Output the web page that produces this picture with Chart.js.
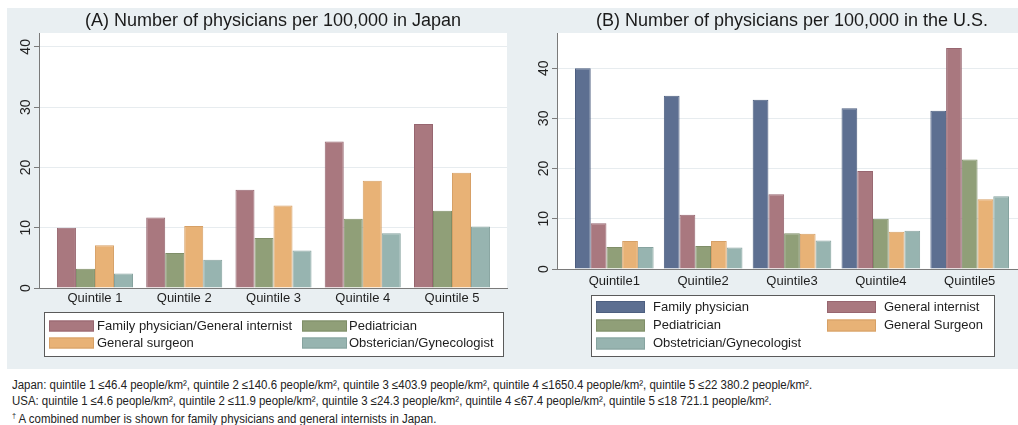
<!DOCTYPE html>
<html>
<head>
<meta charset="utf-8">
<script src="https://cdn.jsdelivr.net/npm/chart.js@4.4.1/dist/chart.umd.min.js"></script>
<style>
  html, body { margin: 0; padding: 0; background: #ffffff; }
  body { width: 1018px; height: 425px; overflow: hidden; position: relative;
         font-family: "Liberation Sans", Arial, sans-serif; }
  #panel { position: absolute; left: 7px; top: 8px; width: 1011px; height: 361px; background: #e9eff2; }
  #wrapA { position: absolute; left: 0; top: 0; width: 515px; height: 370px; }
  #wrapB { position: absolute; left: 505px; top: 0; width: 522px; height: 370px; }
  .note { position: absolute; left: 12px; font-family: "Liberation Sans", Arial, sans-serif;
          font-size: 12.5px; line-height: 14px; color: #222; white-space: nowrap;
          transform: scaleX(0.915); transform-origin: 0 50%; }
</style>
</head>
<body>
<div id="panel"></div>
<div id="wrapA"><canvas id="japan" width="515" height="370"></canvas></div>
<div id="wrapB"><canvas id="usa" width="522" height="370"></canvas></div>
<div class="note" style="top:378px">Japan: quintile 1 ≤46.4 people/km², quintile 2 ≤140.6 people/km², quintile 3 ≤403.9 people/km², quintile 4 ≤1650.4 people/km², quintile 5 ≤22 380.2 people/km².</div>
<div class="note" style="top:394px">USA: quintile 1 ≤4.6 people/km², quintile 2 ≤11.9 people/km², quintile 3 ≤24.3 people/km², quintile 4 ≤67.4 people/km², quintile 5 ≤18 721.1 people/km².</div>
<div class="note" style="top:409px"><sup style="font-size:8px">†</sup> A combined number is shown for family physicians and general internists in Japan.</div>

<script>
// ---- data: physicians per 100,000 by population-density quintile ----
const categoriesJapan = ['Quintile 1', 'Quintile 2', 'Quintile 3', 'Quintile 4', 'Quintile 5'];
const categoriesUS = ['Quintile1', 'Quintile2', 'Quintile3', 'Quintile4', 'Quintile5'];

const jpFamilyInternist = [10.0, 11.7, 16.3, 24.3, 27.2];
const jpPediatrician    = [3.2, 5.8, 8.3, 11.5, 12.8];
const jpSurgeon         = [7.1, 10.3, 13.7, 17.8, 19.1];
const jpObGyn           = [2.4, 4.7, 6.2, 9.1, 10.2];

const usFamily       = [40.0, 34.5, 33.7, 32.0, 31.5];
const usInternist    = [9.1, 10.8, 14.9, 19.5, 44.0];
const usPediatrician = [4.4, 4.6, 7.1, 10.0, 21.8];
const usSurgeon      = [5.6, 5.6, 7.0, 7.4, 13.9];
const usObGyn        = [4.4, 4.3, 5.7, 7.6, 14.5];

const yTickValues = [0, 10, 20, 30, 40];

// ---- colours ----
const COL = {
  navy:   ['#5d6f91', '#4d5f80'],
  mauve:  ['#a9787f', '#976670'],
  green:  ['#909f78', '#7f8e68'],
  orange: ['#e8b276', '#d6a066'],
  teal:   ['#97b4b0', '#86a39f']
};

function series(label, values, col) {
  return {
    label,
    data: values.map((v, i) => ({ x: i, y: v })),
    backgroundColor: col[0],
    borderColor: col[1],
    borderWidth: 1,
    barPercentage: 1.0
  };
}

// white plotting region behind the grid
const plotBackground = {
  id: 'plotBackground',
  beforeDraw(chart) {
    const { ctx, chartArea: a } = chart;
    ctx.save();
    ctx.fillStyle = '#ffffff';
    ctx.fillRect(a.left, a.top, a.right - a.left, a.bottom - a.top);
    ctx.restore();
  }
};

// vertical (rotated) y tick labels
const rotatedYLabels = {
  id: 'rotatedYLabels',
  afterDraw(chart, args, o) {
    const s = chart.scales.y, ctx = chart.ctx;
    ctx.save();
    ctx.font = o.font;
    ctx.fillStyle = o.color;
    ctx.textAlign = 'center';
    ctx.textBaseline = 'middle';
    s.ticks.forEach(t => {
      const y = s.getPixelForValue(t.value);
      ctx.save();
      ctx.translate(s.right - o.offset, y);
      ctx.rotate(-Math.PI / 2);
      ctx.fillText(String(t.value), 0, 0);
      ctx.restore();
    });
    ctx.restore();
  }
};

// boxed legend laid out in two columns
const boxLegend = {
  id: 'boxLegend',
  afterDraw(chart, args, o) {
    const ctx = chart.ctx, b = o.box;
    ctx.save();
    ctx.fillStyle = '#ffffff';
    ctx.fillRect(b.x, b.y, b.w, b.h);
    ctx.strokeStyle = '#5a5a5a';
    ctx.lineWidth = 1;
    ctx.strokeRect(b.x + 0.5, b.y + 0.5, b.w, b.h);
    ctx.font = o.font;
    ctx.textBaseline = 'middle';
    ctx.textAlign = 'left';
    chart.data.datasets.forEach((ds, i) => {
      const col = i % 2, row = Math.floor(i / 2);
      const sx = o.swatchX[col], cy = o.rowY[row];
      ctx.fillStyle = ds.backgroundColor;
      ctx.fillRect(sx, cy - o.swatchH / 2, o.swatchW, o.swatchH);
      ctx.strokeStyle = ds.borderColor;
      ctx.strokeRect(sx + 0.5, cy - o.swatchH / 2 + 0.5, o.swatchW - 1, o.swatchH - 1);
      ctx.fillStyle = '#1e1e1e';
      ctx.fillText(ds.label, o.textX[col], cy);
    });
    ctx.restore();
  }
};

function makeChart(id, cfg) {
  return new Chart(document.getElementById(id), {
    type: 'bar',
    data: { datasets: cfg.datasets },
    plugins: [plotBackground, rotatedYLabels, boxLegend],
    options: {
      responsive: false,
      animation: false,
      layout: { padding: { left: 0, right: cfg.padRight, top: 0, bottom: cfg.padBottom } },
      datasets: { bar: { categoryPercentage: cfg.catPct } },
      scales: {
        x: {
          type: 'linear',
          offset: false,
          min: cfg.xMin,
          max: cfg.xMax,
          afterBuildTicks: s => { s.ticks = cfg.categories.map((c, i) => ({ value: i })); },
          afterFit: s => { s.height = 22; },
          ticks: {
            callback: v => cfg.categories[v],
            color: '#1e1e1e',
            font: { size: 13, family: '"Liberation Sans", Arial, sans-serif', lineHeight: 1.2 },
            padding: cfg.xPad,
            maxRotation: 0,
            autoSkip: false
          },
          grid: { display: false, drawTicks: false, tickLength: 0 },
          border: { display: true, color: '#7a7a7a', width: 1 }
        },
        y: {
          min: 0,
          max: cfg.yMax,
          afterBuildTicks: s => { s.ticks = yTickValues.map(v => ({ value: v })); },
          afterFit: s => { s.width = cfg.yWidth; },
          ticks: { display: false },
          grid: { color: '#e7ecef', tickColor: '#7a7a7a', tickLength: 5, lineWidth: 1 },
          border: { display: true, color: '#7a7a7a', width: 1 }
        }
      },
      plugins: {
        legend: { display: false },
        tooltip: { enabled: false },
        title: {
          display: true,
          fullSize: false,
          text: cfg.title,
          color: '#1a1a1a',
          font: { size: 18, weight: 'normal', family: '"Liberation Sans", Arial, sans-serif', lineHeight: 1.2 },
          padding: { top: 10.2, bottom: 1.2 }
        },
        rotatedYLabels: { font: '14px "Liberation Sans", Arial, sans-serif', color: '#222', offset: 13 },
        boxLegend: cfg.legend
      }
    }
  });
}

makeChart('japan', {
  title: '(A) Number of physicians per 100,000 in Japan',
  categories: categoriesJapan,
  datasets: [
    series('Family physician/General internist', jpFamilyInternist, COL.mauve),
    series('Pediatrician', jpPediatrician, COL.green),
    series('General surgeon', jpSurgeon, COL.orange),
    series('Obsterician/Gynecologist', jpObGyn, COL.teal)
  ],
  yMax: 42.3, xMin: -0.627, xMax: 4.616, catPct: 0.852,
  yWidth: 39, padRight: 8, padBottom: 60, xPad: 3,
  legend: {
    box: { x: 44, y: 312, w: 459, h: 44 },
    swatchX: [49, 302], textX: [97, 349], rowY: [326, 343],
    swatchW: 45, swatchH: 11,
    font: '13px "Liberation Sans", Arial, sans-serif'
  }
});

makeChart('usa', {
  title: '(B) Number of physicians per 100,000 in the U.S.',
  categories: categoriesUS,
  datasets: [
    series('Family physician', usFamily, COL.navy),
    series('General internist', usInternist, COL.mauve),
    series('Pediatrician', usPediatrician, COL.green),
    series('General Surgeon', usSurgeon, COL.orange),
    series('Obstetrician/Gynecologist', usObGyn, COL.teal)
  ],
  yMax: 47, xMin: -0.645, xMax: 4.645, catPct: 0.885,
  yWidth: 52, padRight: 0, padBottom: 79, xPad: 5,
  legend: {
    box: { x: 86, y: 295, w: 403, h: 61 },
    swatchX: [91, 322], textX: [148, 379], rowY: [307, 325.5, 343.5],
    swatchW: 49, swatchH: 12,
    font: '13px "Liberation Sans", Arial, sans-serif'
  }
});
</script>
</body>
</html>
